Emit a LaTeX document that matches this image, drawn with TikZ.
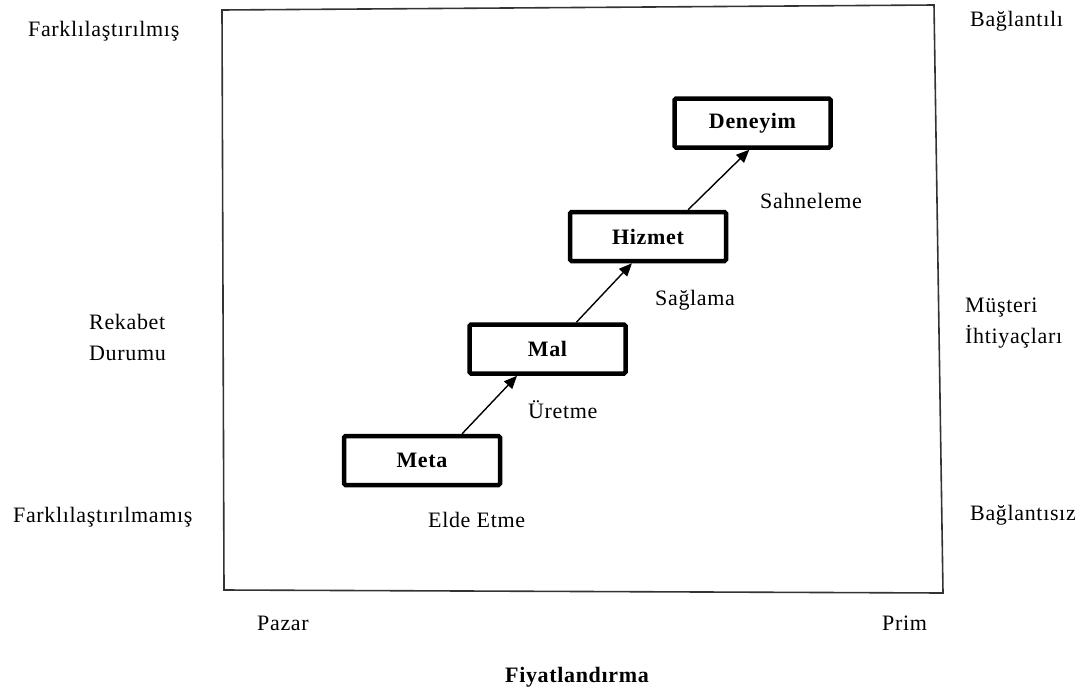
\documentclass[tikz,border=0pt]{standalone}
\usepackage{fontspec}
\setmainfont{Liberation Serif}[LetterSpace=3]
\usetikzlibrary{arrows.meta,calc}
\tikzset{
  stagebox/.style={draw=black, line width=4.5pt, rounded corners=1.5pt, minimum width=156pt, minimum height=49pt, inner sep=0pt, font=\fontsize{22}{26}\selectfont\bfseries},
  lbl/.style={inner sep=0pt, font=\fontsize{22}{31}\selectfont},
  flow/.style={draw=black, line width=1.4pt, -{Triangle[length=13pt,width=11pt]}},
  frame/.style={draw=black!80, line width=1.6pt}
}
\begin{document}
\begin{tikzpicture}[x=1pt,y=-1pt]
\useasboundingbox (0,0) rectangle (1084,693);
% frame
\coordinate (f1) at (222,10);
\coordinate (f2) at (934,5);
\coordinate (f3) at (943,593);
\coordinate (f4) at (224,590);
\draw[frame] (f1) -- (f2) -- (f3) -- (f4) -- cycle;
% stage boxes
\node[stagebox] (meta) at (422,460.5) {Meta};
\node[stagebox] (mal) at (547.5,349) {Mal};
\node[stagebox] (hizmet) at (648,236.5) {Hizmet};
\node[stagebox] (deneyim) at (752.5,123) {Deneyim};
% arrows
\coordinate (a1s) at ($(meta.north west)!0.75!(meta.north east)$);
\coordinate (a1e) at ($(mal.south west)!0.31!(mal.south east)$);
\coordinate (a2s) at ($(mal.north west)!0.68!(mal.north east)$);
\coordinate (a2e) at ($(hizmet.south west)!0.40!(hizmet.south east)$);
\coordinate (a3s) at ($(hizmet.north west)!0.75!(hizmet.north east)$);
\coordinate (a3e) at ($(deneyim.south west)!0.48!(deneyim.south east)$);
\draw[flow] (a1s) -- (a1e);
\draw[flow] (a2s) -- (a2e);
\draw[flow] (a3s) -- (a3e);
% step labels
\node[lbl, anchor=base west] (elde) at (428,527) {Elde Etme};
\node[lbl, anchor=base west] (uretme) at (528,418) {Üretme};
\node[lbl, anchor=base west] (saglama) at (655,305) {Sağlama};
\node[lbl, anchor=base west] (sahne) at (760,208) {Sahneleme};
% left axis
\node[lbl, anchor=base west] (fark) at (28,37) {Farklılaştırılmış};
\node[lbl, anchor=base west] (rek1) at (89,329) {Rekabet};
\node[lbl, anchor=base west] (rek2) at (89,360) {Durumu};
\node[lbl, anchor=base west] (farkm) at (13,522) {Farklılaştırılmamış};
% right axis
\node[lbl, anchor=base west] (bagl) at (970,27) {Bağlantılı};
\node[lbl, anchor=base west] (mus1) at (965,312) {Müşteri};
\node[lbl, anchor=base west] (mus2) at (965,343) {İhtiyaçları};
\node[lbl, anchor=base west] (bagz) at (970,520) {Bağlantısız};
% bottom axis
\node[lbl, anchor=base west] (pazar) at (257,630) {Pazar};
\node[lbl, anchor=base west] (prim) at (882,630) {Prim};
\node[lbl, anchor=base, font=\fontsize{22}{26}\selectfont\bfseries] (fiyat) at (577,682) {Fiyatlandırma};
\end{tikzpicture}
\end{document}
